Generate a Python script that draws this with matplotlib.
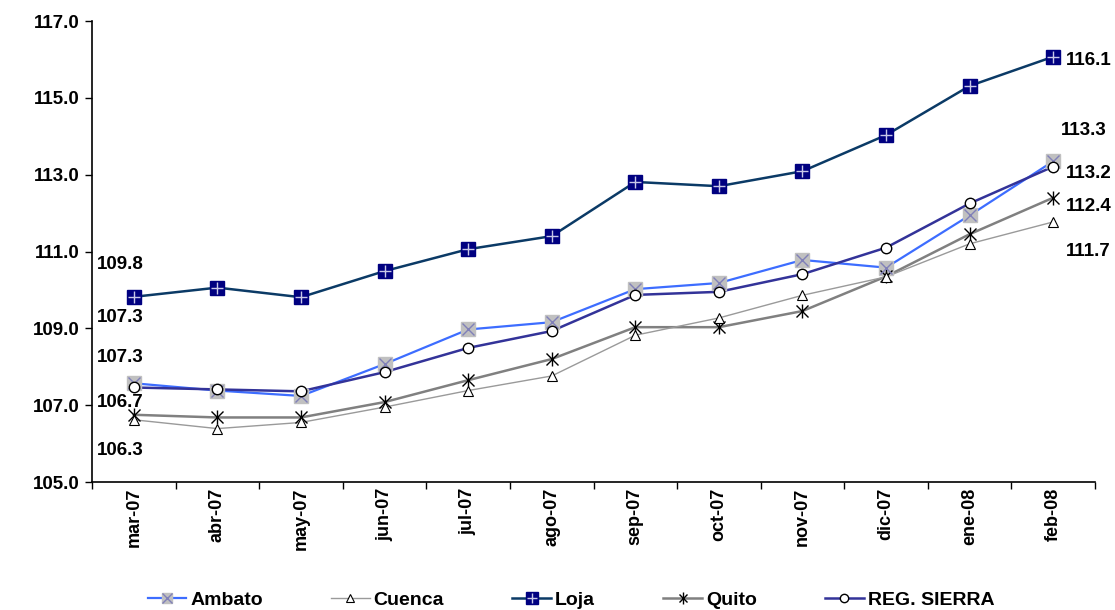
import numpy as np
import matplotlib
matplotlib.use("Agg")
import matplotlib.pyplot as plt

plt.rcParams['font.family'] = ['Liberation Sans', 'DejaVu Sans']
plt.rcParams['font.weight'] = 'bold'

months = ["mar-07", "abr-07", "may-07", "jun-07", "jul-07", "ago-07",
          "sep-07", "oct-07", "nov-07", "dic-07", "ene-08", "feb-08"]

ambato = [107.57, 107.38, 107.24, 108.07, 108.97, 109.16, 110.02, 110.18, 110.78, 110.58, 111.94, 113.35]
cuenca = [106.62, 106.39, 106.55, 106.95, 107.38, 107.76, 108.82, 109.27, 109.86, 110.34, 111.20, 111.77]
loja = [109.82, 110.06, 109.81, 110.49, 111.06, 111.40, 112.81, 112.70, 113.09, 114.03, 115.31, 116.07]
quito = [106.75, 106.68, 106.68, 107.08, 107.65, 108.20, 109.03, 109.03, 109.45, 110.35, 111.45, 112.40]
sierra = [107.46, 107.41, 107.36, 107.86, 108.49, 108.93, 109.87, 109.95, 110.41, 111.10, 112.25, 113.21]

left_labels = ["109.8", "107.3", "107.3", "106.7", "106.3"]
right_labels = ["116.1", "113.3", "113.2", "112.4", "111.7"]

fig = plt.figure(figsize=(11.15, 6.1), dpi=100)
ax = fig.add_axes([92 / 1115, 1 - 482 / 610, 1003 / 1115, 461 / 610])
x = np.arange(len(months))

# Loja
l_loja, = ax.plot(x, loja, color="#0b3a66", lw=1.8, zorder=3)
m_loja1, = ax.plot(x, loja, ls="none", marker="s", ms=10, mfc="#000080", mec="#000080", zorder=4)
m_loja2, = ax.plot(x, loja, ls="none", marker="+", ms=9, mew=1, color="#c8c8e8", zorder=5)

# Ambato
l_amb, = ax.plot(x, ambato, color="#3d6dff", lw=1.6, zorder=3)
m_amb1, = ax.plot(x, ambato, ls="none", marker="s", ms=9.5, mfc="#c0c0c0", mec="#c0c0c0", zorder=4)
m_amb2, = ax.plot(x, ambato, ls="none", marker="x", ms=9, mew=1, color="#8080b8", zorder=5)

# REG. SIERRA
l_sie, = ax.plot(x, sierra, color="#333399", lw=1.8, zorder=3)
m_sie, = ax.plot(x, sierra, ls="none", marker="o", ms=7.5, mfc="white", mec="black", mew=1, zorder=6)

# Quito
l_qui, = ax.plot(x, quito, color="#808080", lw=1.8, zorder=2)
m_qui1, = ax.plot(x, quito, ls="none", marker="x", ms=8, mew=1, color="black", zorder=4)
m_qui2, = ax.plot(x, quito, ls="none", marker="|", ms=10, mew=1, color="black", zorder=4)

# Cuenca
l_cue, = ax.plot(x, cuenca, color="#9a9a9a", lw=1.0, zorder=2)
m_cue, = ax.plot(x, cuenca, ls="none", marker="^", ms=7.5, mfc="white", mec="black", mew=0.8, zorder=4)

ax.set_xlim(-0.5, len(months) - 0.5)
ax.set_ylim(105, 117)
ax.set_yticks(np.arange(105, 117.1, 2))
ax.set_yticklabels([f"{v:.1f}" for v in np.arange(105, 117.1, 2)], fontsize=13.5, fontweight="bold")
ax.set_xticks(x)
ax.set_xticklabels(months, rotation=90, fontsize=13, fontweight="bold")
ax.set_xticks(np.arange(-0.5, len(months), 1), minor=True)
ax.tick_params(axis="x", which="major", length=0, pad=4)
ax.tick_params(axis="x", which="minor", length=5, direction="out", width=1)
ax.tick_params(axis="y", length=5, direction="out", width=1, pad=4)
for s in ["top", "right"]:
    ax.spines[s].set_visible(False)
for s in ["left", "bottom"]:
    ax.spines[s].set_linewidth(1.2)

# data labels, placed as in the original (not on their points)
left_y = [110.67, 109.27, 108.23, 107.06, 105.83]
for t, yy in zip(left_labels, left_y):
    ax.text(-0.16, yy, t, ha="center", va="center", fontsize=13.5, fontweight="bold", zorder=7)
right_pos = [(11.42, 115.98), (11.36, 114.16), (11.42, 113.04), (11.42, 112.18), (11.42, 110.99)]
for t, (xx, yy) in zip(right_labels, right_pos):
    ax.text(xx, yy, t, ha="center", va="center", fontsize=13.5, fontweight="bold", clip_on=False, zorder=7)

handles = [(l_amb, m_amb1, m_amb2), (l_cue, m_cue), (l_loja, m_loja1, m_loja2),
           (l_qui, m_qui1, m_qui2), (l_sie, m_sie)]
names = ["Ambato", "Cuenca", "Loja", "Quito", "REG. SIERRA"]
fig.legend(handles, names, loc="center", bbox_to_anchor=(0.512, 0.016), ncol=5,
           frameon=False, prop={"size": 14, "weight": "bold"},
           handlelength=2.0, handletextpad=0.2, columnspacing=3.5, markerscale=0.8)

fig.savefig("out.png", dpi=100)
